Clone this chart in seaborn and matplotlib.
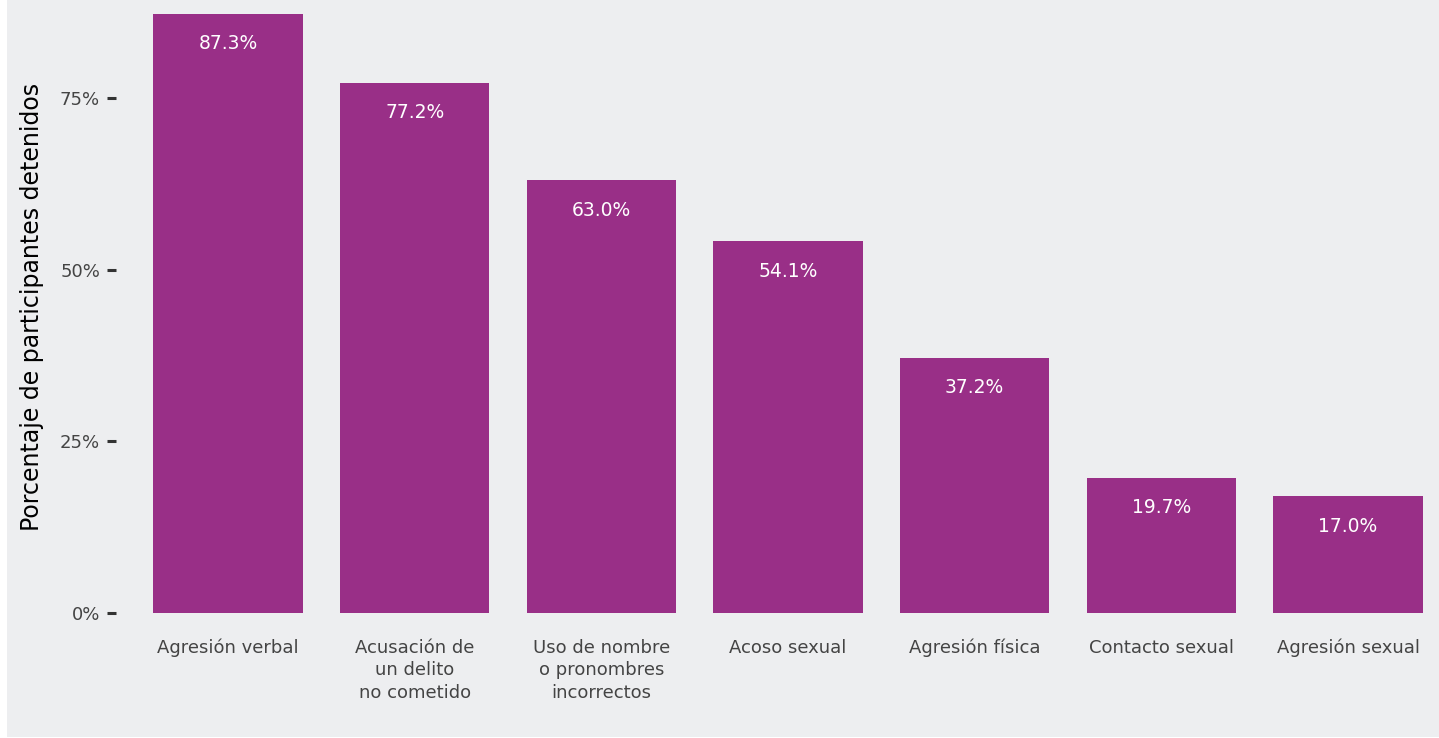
import matplotlib
matplotlib.use("Agg")
import matplotlib.pyplot as plt
import seaborn as sns
import pandas as pd
from matplotlib.patches import Rectangle
from matplotlib.ticker import FuncFormatter
from matplotlib.transforms import ScaledTranslation

categories = ["Agresión verbal", "Acusación de\nun delito\nno cometido",
              "Uso de nombre\no pronombres\nincorrectos", "Acoso sexual",
              "Agresión física", "Contacto sexual", "Agresión sexual"]
values = [87.3, 77.2, 63.0, 54.1, 37.2, 19.7, 17.0]
yticks = [0, 25, 50, 75]

sns.set_theme(style="white")
plt.rcParams['font.family'] = ['DejaVu Sans']

W, H = 1439, 738
DPI = 100
fig = plt.figure(figsize=(W / DPI, H / DPI), dpi=DPI, facecolor="white")
fig.patches.append(Rectangle((7 / W, 1 - 737 / H), 1 - 7 / W, 737 / H,
                             transform=fig.transFigure, facecolor="#edeef0",
                             edgecolor="none", zorder=-10))

left, right, top, bottom = 116, 1439, 0, 613
ax = fig.add_axes([left / W, 1 - bottom / H, (right - left) / W, (bottom - top) / H])
ax.set_facecolor("none")

df = pd.DataFrame({"cat": categories, "val": values})
sns.barplot(data=df, x="cat", y="val", color="#992f87", saturation=1, width=0.8,
            linewidth=0, edgecolor="none", ax=ax)

scale = 186.67
ax.set_xlim(-(228 - left) / scale, 6 + (right - 1348) / scale)
ax.set_ylim(0, 613 / 6.867)

for i, v in enumerate(values):
    ax.annotate(f"{v:.1f}%", (i, v), xytext=(0, -30), textcoords="offset pixels",
                ha="center", va="center", color="white", fontsize=13.5)

ax.set_yticks(yticks)
ax.yaxis.set_major_formatter(FuncFormatter(lambda y, _: f"{y:.0f}%"))
ax.tick_params(axis="y", direction="out", length=6.5, width=2.2, color="#333333",
               pad=5, labelsize=13, labelcolor="#444444", left=True)
ax.tick_params(axis="x", length=0, pad=29, labelsize=13, labelcolor="#444444")

renderer = fig.canvas.get_renderer()
LS = 1.3
for lab in ax.get_xticklabels():
    lab.set_verticalalignment("baseline")
    lab.set_linespacing(LS)
    lines = lab.get_text().split("\n")
    if len(lines) > 1:
        fp = lab.get_fontproperties()
        _, lp_h, lp_d = renderer.get_text_width_height_descent("lp", fp, ismath=False)
        min_dy = (lp_h - lp_d) * LS
        _, h0, d0 = renderer.get_text_width_height_descent(lines[0], fp, ismath=False)
        d_prev = max(d0, lp_d)
        dy = 0.0
        for line in lines[1:]:
            _, h, d = renderer.get_text_width_height_descent(line, fp, ismath=False)
            h = max(h, lp_h)
            d = max(d, lp_d)
            dy += d_prev + max(min_dy, (h - d) * LS)
            d_prev = d
        lab.set_transform(lab.get_transform() + ScaledTranslation(0, -dy / DPI, fig.dpi_scale_trans))

ax.set_xlabel("")
ax.set_ylabel("Porcentaje de participantes detenidos", fontsize=17, color="black")
ax.yaxis.set_label_coords((44 - left) / (right - left), 0.5)
for s in ax.spines.values():
    s.set_visible(False)

fig.savefig("out.png", dpi=DPI, facecolor="white")
